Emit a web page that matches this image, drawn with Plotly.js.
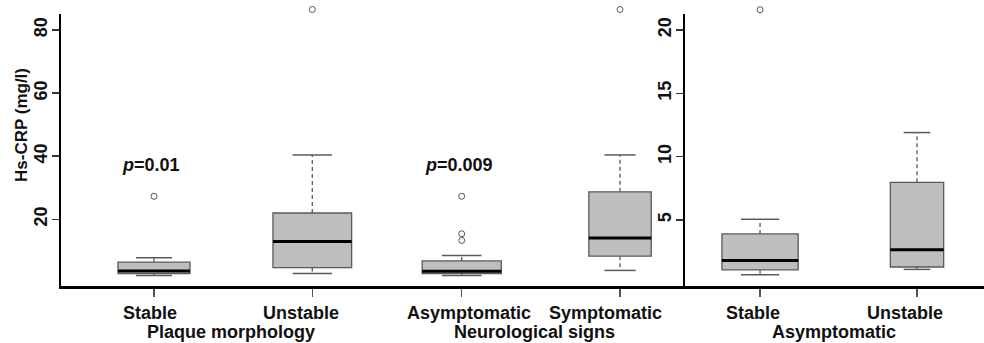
<!DOCTYPE html>
<html>
<head>
<meta charset="utf-8">
<script src="https://cdn.plot.ly/plotly-3.0.1.min.js"></script>
<style>html,body{margin:0;padding:0;background:#fff;}#chart{width:984px;height:343px;}</style>
</head>
<body>
<div id="chart"></div>
<script>
// ---------------- DATA ----------------
const categories   = ["Stable", "Unstable", "Asymptomatic", "Symptomatic", "Stable", "Unstable"];
const panelOf      = [0, 0, 1, 1, 2, 2];
const positions    = [1, 2, 1, 2, 1, 2];
const groupTitles  = ["Plaque morphology", "Neurological signs", "Asymptomatic"];
const lowerWhisker = [2.2, 2.8, 2.2, 3.8, 0.68, 1.1];
const q1           = [2.8, 4.7, 2.8, 8.3, 1.07, 1.29];
const median       = [3.6, 13.0, 3.5, 14.1, 1.8, 2.65];
const q3           = [6.4, 22.0, 6.8, 28.7, 3.9, 7.97];
const upperWhisker = [7.8, 40.4, 8.5, 40.4, 5.05, 11.9];
const outliers     = [[27.3], [86.5], [27.3, 15.4, 13.3], [86.5], [21.6], []];
const pValueText   = ["0.01", "0.009"];
const pValuePanel  = [0, 1];
const pValueY      = [37.2, 37.2];
const yTickVals    = [[20, 40, 60, 80], [5, 10, 15, 20]];
const yTitle       = "Hs-CRP (mg/l)";

// ---------------- STYLE ----------------
const boxWidths   = [0.455, 0.497, 0.50, 0.394, 0.486, 0.34];
const labelShift  = [-4, -11, 7, -15, -7, -12];
const groupShift  = [-2, -6.5, -5];
const FONT = "Liberation Sans, Arial, Helvetica, sans-serif";
const axNames  = [["x", "y"], ["x2", "y"], ["x3", "y2"]];
const outAxes  = ["y3", "y3", "y4"];          // taller, invisible axes for points above the frame
const boxFill = "#bebebe", boxLine = "#5a5a5a";

// frame geometry — plot area top at 5px, visible axis frame top at 14px
const yMain = [[-1.14, 85.07], [-0.21, 21.26]];
const frameFrac = 272 / 281;
const yOuter = yMain.map(r => [r[0], r[0] + (r[1] - r[0]) / frameFrac]);

const traces = [];
for (let i = 0; i < categories.length; i++) {
  const [xa, ya] = axNames[panelOf[i]];
  const p = positions[i], w = boxWidths[i];
  traces.push({
    type: "box", xaxis: xa, yaxis: ya,
    x: [p], q1: [q1[i]], median: [median[i]], q3: [q3[i]],
    lowerfence: [q1[i]], upperfence: [q3[i]],
    width: w, whiskerwidth: 0, boxpoints: false,
    fillcolor: boxFill, line: {color: boxLine, width: 1.3},
    hoverinfo: "skip", showlegend: false
  });
  traces.push({
    type: "scatter", mode: "lines", xaxis: xa, yaxis: ya,
    x: [p, p, null, p, p],
    y: [q3[i], upperWhisker[i], null, q1[i], lowerWhisker[i]],
    line: {color: boxLine, width: 1.3, dash: "4px,3px"},
    hoverinfo: "skip", showlegend: false
  });
  traces.push({
    type: "scatter", mode: "lines", xaxis: xa, yaxis: ya,
    x: [p - w / 4, p + w / 4, null, p - w / 4, p + w / 4],
    y: [upperWhisker[i], upperWhisker[i], null, lowerWhisker[i], lowerWhisker[i]],
    line: {color: boxLine, width: 1.5},
    hoverinfo: "skip", showlegend: false
  });
  traces.push({
    type: "scatter", mode: "lines", xaxis: xa, yaxis: ya,
    x: [p - w / 2, p + w / 2], y: [median[i], median[i]],
    line: {color: "#000", width: 3},
    hoverinfo: "skip", showlegend: false
  });
  if (outliers[i].length) {
    traces.push({
      type: "scatter", mode: "markers", xaxis: xa, yaxis: outAxes[panelOf[i]],
      x: outliers[i].map(() => p), y: outliers[i],
      marker: {symbol: "circle-open", size: 6, color: "#555", line: {width: 1}},
      cliponaxis: false, hoverinfo: "skip", showlegend: false
    });
  }
}

const annotations = [];
for (let i = 0; i < categories.length; i++) {
  annotations.push({
    xref: axNames[panelOf[i]][0], yref: "paper", x: positions[i], y: 0,
    xshift: labelShift[i], yshift: -27, yanchor: "middle", xanchor: "center",
    borderpad: 0,
    text: "<b>" + categories[i] + "</b>", showarrow: false,
    font: {family: FONT, size: 18, color: "#111"}
  });
}
for (let g = 0; g < groupTitles.length; g++) {
  const idx = panelOf.map((v, k) => v === g ? k : -1).filter(k => k >= 0);
  const cx = idx.reduce((s, k) => s + positions[k], 0) / idx.length;
  annotations.push({
    xref: axNames[g][0], yref: "paper", x: cx, y: 0,
    xshift: groupShift[g], yshift: -46, yanchor: "middle", xanchor: "center",
    borderpad: 0,
    text: "<b>" + groupTitles[g] + "</b>", showarrow: false,
    font: {family: FONT, size: 18, color: "#111"}
  });
}
for (let k = 0; k < pValueText.length; k++) {
  annotations.push({
    xref: axNames[pValuePanel[k]][0], yref: axNames[pValuePanel[k]][1],
    x: 1, y: pValueY[k], xshift: -3, xanchor: "center", yanchor: "middle",
    text: "<b><i>p</i>=" + pValueText[k] + "</b>", showarrow: false,
    font: {family: FONT, size: 18, color: "#111"}
  });
}
annotations.push({
  xref: "paper", yref: "paper", x: 0, y: 0.573, xshift: -39,
  xanchor: "center", yanchor: "middle", textangle: -90,
  text: "<b>" + yTitle + "</b>", showarrow: false,
  font: {family: FONT, size: 17, color: "#111"}
});

const xBase = {
  showline: true, linecolor: "#000", linewidth: 2.5,
  showgrid: false, zeroline: false,
  tickmode: "array", tickvals: [1, 2], showticklabels: false,
  ticks: "outside", ticklen: 8, tickwidth: 1.2, tickcolor: "#555",
  fixedrange: true
};
const yBase = {
  showline: true, linecolor: "#000", linewidth: 2.5,
  showgrid: false, zeroline: false, tickmode: "array",
  ticks: "outside", ticklen: 7, tickwidth: 1.5, tickcolor: "#333",
  tickangle: -90, ticklabelstandoff: -3,
  tickfont: {family: FONT, size: 18, color: "#111", weight: "bold"},
  domain: [0, frameFrac], fixedrange: true
};
const yHidden = {visible: false, domain: [0, 1], fixedrange: true, showgrid: false, zeroline: false};

const layout = {
  width: 984, height: 343,
  margin: {l: 61, r: 0, t: 5, b: 57},
  paper_bgcolor: "#fff", plot_bgcolor: "rgba(0,0,0,0)",
  showlegend: false,
  font: {family: FONT, color: "#111"},
  xaxis:  Object.assign({}, xBase, {domain: [0, 0.3532], range: [0.4125, 2.472], anchor: "y"}),
  xaxis2: Object.assign({}, xBase, {domain: [0.3532, 0.6761], range: [0.528, 2.4106], anchor: "y"}),
  xaxis3: Object.assign({}, xBase, {domain: [0.6761, 1], range: [0.522, 2.427], anchor: "y2"}),
  yaxis:  Object.assign({}, yBase, {range: yMain[0], tickvals: yTickVals[0], anchor: "x"}),
  yaxis2: Object.assign({}, yBase, {range: yMain[1], tickvals: yTickVals[1], anchor: "x3"}),
  yaxis3: Object.assign({}, yHidden, {range: yOuter[0], anchor: "x"}),
  yaxis4: Object.assign({}, yHidden, {range: yOuter[1], anchor: "x3"}),
  annotations: annotations
};

Plotly.newPlot("chart", traces, layout, {staticPlot: true, displayModeBar: false});
</script>
</body>
</html>
